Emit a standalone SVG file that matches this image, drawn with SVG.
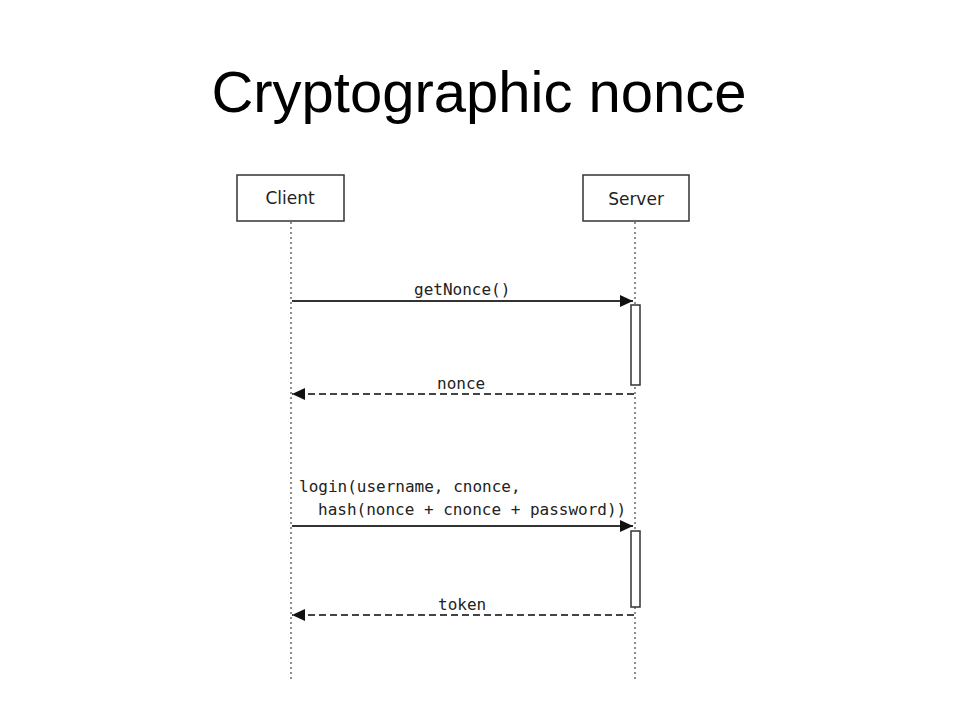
<svg xmlns="http://www.w3.org/2000/svg" width="960" height="720" viewBox="0 0 960 720">
<style>
.box{fill:#fff;stroke:#333;stroke-width:1.5}
.life{stroke:#444;stroke-width:1.2;stroke-dasharray:2,3}
.msg{stroke:#333;stroke-width:1.8;fill:none}
.ret{stroke:#444;stroke-width:1.8;fill:none;stroke-dasharray:7,4}
.act{fill:#fff;stroke:#333;stroke-width:1.5}
.lbl{font-family:"DejaVu Sans",sans-serif;font-size:17px;fill:#222;text-anchor:middle}
.mono{font-family:"DejaVu Sans Mono",monospace;font-size:16px;fill:#222}
</style>
<defs>
<marker id="ah" markerWidth="13" markerHeight="12" refX="13" refY="6" orient="auto" markerUnits="userSpaceOnUse">
<path d="M0,0 L13,6 L0,12 Z" fill="#111"/></marker>
</defs>
<text x="479" y="112" font-family="Liberation Sans, Arial, sans-serif" font-size="58" text-anchor="middle" fill="#000">Cryptographic nonce</text>
<g id="client"><rect class="box" x="237" y="175" width="107" height="46"/><text class="lbl" x="290" y="204">Client</text></g>
<g id="server"><rect class="box" x="583" y="175" width="106" height="46"/><text class="lbl" x="636" y="205">Server</text></g>
<g id="lifelines"><line class="life" x1="291" y1="222" x2="291" y2="680"/><line class="life" x1="635" y1="222" x2="635" y2="680"/></g>
<g id="activations"><rect class="act" x="631" y="305" width="9" height="80"/><rect class="act" x="631" y="531" width="9" height="76"/></g>
<g id="connectors">
<line class="msg" x1="292" y1="301" x2="633" y2="301" marker-end="url(#ah)"/>
<line class="ret" x1="634" y1="394" x2="292" y2="394" marker-end="url(#ah)"/>
<line class="msg" x1="292" y1="526" x2="633" y2="526" marker-end="url(#ah)"/>
<line class="ret" x1="634" y1="615" x2="292" y2="615" marker-end="url(#ah)"/>
<text class="mono" x="414" y="295">getNonce()</text>
<text class="mono" x="437" y="389">nonce</text>
<text class="mono" x="299" y="492">login(username, cnonce,</text>
<text class="mono" x="318" y="515">hash(nonce + cnonce + password))</text>
<text class="mono" x="438" y="610">token</text>
</g>
</svg>
